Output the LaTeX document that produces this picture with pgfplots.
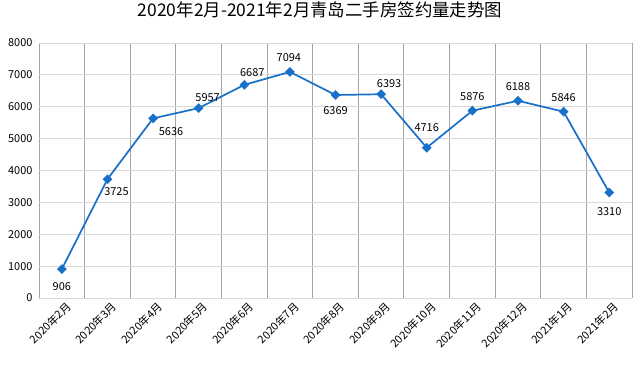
\documentclass[border=0pt]{standalone}
\usepackage{fontspec}
\setmainfont{Noto Sans CJK SC}
\usepackage{pgfplots}
\pgfplotsset{compat=1.18}
\usepackage{pgfplotstable}
\definecolor{lineblue}{RGB}{24,112,200}
\definecolor{vgrid}{RGB}{165,165,165}
\definecolor{hgrid}{RGB}{217,217,217}
\pgfplotstableread{
x y dx dy
0 906 0 -17
1 3725 9 -12
2 5636 18 -13
3 5957 9 11
4 6687 8 12
5 7094 -1 14
6 6369 0 -16
7 6393 8 11
8 4716 0 20
9 5876 0 14
10 6188 0 14
11 5846 0 14
12 3310 0 -19
}\data
\begin{document}
\begin{tikzpicture}
\useasboundingbox (0,0) rectangle (640bp,372bp);
\begin{axis}[
  at={(39bp,74bp)}, anchor=south west,
  scale only axis, width=593bp, height=255bp,
  xmin=-0.5, xmax=12.5, ymin=0, ymax=8000,
  ytick={0,1000,...,8000},
  xtick={0,...,12},
  xticklabels={2020年2月,2020年3月,2020年4月,2020年5月,2020年6月,2020年7月,2020年8月,2020年9月,2020年10月,2020年11月,2020年12月,2021年1月,2021年2月},
  minor xtick={-0.5,0.5,...,12.5},
  xminorgrids, ymajorgrids,
  minor x grid style={draw=vgrid, line width=1bp},
  y grid style={draw=hgrid, line width=1bp},
  axis line style={draw=none},
  major tick length=0pt, minor tick length=0pt,
  /pgf/number format/1000 sep={},
  /pgf/number format/assume math mode=true,
  yticklabel style={font=\fontsize{11}{13}\selectfont, xshift=-3bp},
  xticklabel style={rotate=45, anchor=north east, font=\fontsize{11}{13}\selectfont, xshift=4bp, yshift=-1bp},
  title={2020年2月-2021年2月青岛二手房签约量走势图},
  title style={at={(0.474,1)}, anchor=center, yshift=27bp, font=\fontsize{17.5}{20}\selectfont},
  clip=false,
]
\addplot[lineblue, line width=1.7bp, mark=square*, mark size=2.6bp, mark options={rotate=45, fill=lineblue, draw=lineblue}] table[x=x,y=y] {\data};
\addplot[draw=none, mark=none,
  visualization depends on={\thisrow{dx} \as \dx},
  visualization depends on={\thisrow{dy} \as \dy},
  nodes near coords,
  point meta=explicit,
  nodes near coords style={anchor=center, font=\fontsize{11}{13}\selectfont, xshift=\dx bp, yshift=\dy bp, /pgf/number format/assume math mode=true, /pgf/number format/1000 sep={}},
] table[x=x,y=y,meta=y] {\data};
\end{axis}
\end{tikzpicture}
\end{document}
